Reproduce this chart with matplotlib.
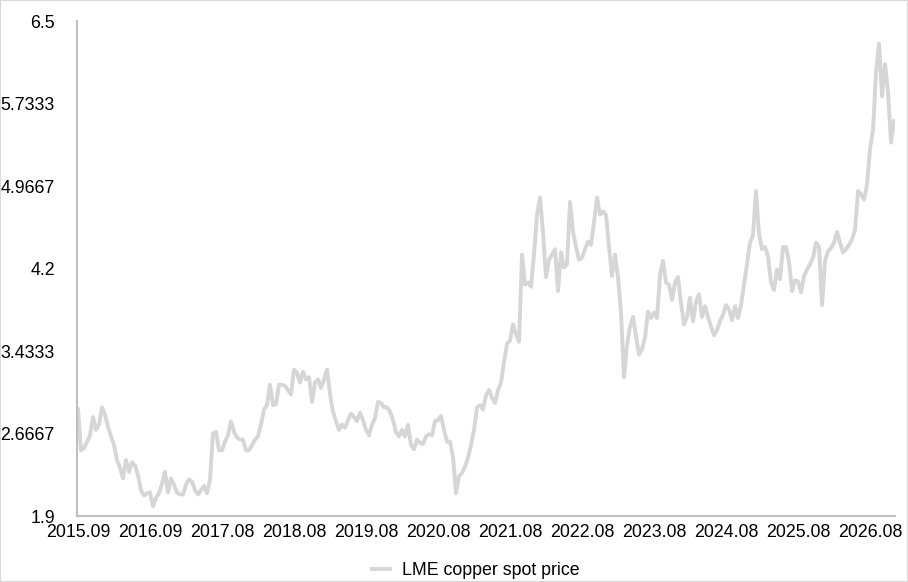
import numpy as np
import matplotlib
matplotlib.use('Agg')
import matplotlib.pyplot as plt
from matplotlib.patches import Rectangle

# weekly-ish LME copper spot price readings
price = [
    2.89, 2.51, 2.53, 2.59, 2.65, 2.82, 2.70, 2.75, 2.91, 2.84,
    2.73, 2.64, 2.56, 2.42, 2.35, 2.25, 2.42, 2.31, 2.40, 2.37,
    2.28, 2.14, 2.09, 2.11, 2.12, 1.99, 2.07, 2.11, 2.20, 2.31,
    2.12, 2.25, 2.19, 2.12, 2.10, 2.10, 2.19, 2.24, 2.22, 2.14,
    2.10, 2.14, 2.18, 2.11, 2.24, 2.67, 2.68, 2.51, 2.51, 2.59,
    2.65, 2.78, 2.68, 2.63, 2.61, 2.61, 2.51, 2.51, 2.56, 2.61,
    2.64, 2.75, 2.89, 2.93, 3.12, 2.93, 2.94, 3.12, 3.12, 3.11,
    3.07, 3.03, 3.26, 3.23, 3.14, 3.24, 3.17, 3.19, 2.96, 3.14,
    3.17, 3.09, 3.17, 3.26, 3.03, 2.87, 2.78, 2.70, 2.75, 2.72,
    2.79, 2.85, 2.82, 2.78, 2.86, 2.79, 2.70, 2.65, 2.75, 2.81,
    2.96, 2.95, 2.91, 2.91, 2.87, 2.79, 2.68, 2.64, 2.70, 2.64,
    2.75, 2.56, 2.52, 2.61, 2.58, 2.57, 2.64, 2.66, 2.65, 2.78,
    2.79, 2.83, 2.70, 2.59, 2.59, 2.45, 2.11, 2.27, 2.30, 2.36,
    2.44, 2.56, 2.70, 2.91, 2.93, 2.89, 3.02, 3.07, 3.00, 2.95,
    3.07, 3.14, 3.33, 3.50, 3.53, 3.68, 3.59, 3.52, 4.33, 4.05,
    4.07, 4.03, 4.33, 4.70, 4.86, 4.54, 4.12, 4.28, 4.33, 4.38,
    3.99, 4.35, 4.21, 4.24, 4.82, 4.54, 4.40, 4.28, 4.30, 4.38,
    4.45, 4.42, 4.63, 4.86, 4.70, 4.73, 4.70, 4.40, 4.13, 4.33,
    4.12, 3.79, 3.19, 3.49, 3.66, 3.75, 3.57, 3.40, 3.45, 3.56,
    3.80, 3.74, 3.79, 3.74, 4.14, 4.27, 4.07, 4.05, 3.91, 4.07,
    4.12, 3.88, 3.68, 3.75, 3.93, 3.71, 3.89, 3.96, 3.75, 3.85,
    3.75, 3.66, 3.58, 3.63, 3.71, 3.77, 3.86, 3.82, 3.72, 3.85,
    3.74, 3.86, 4.05, 4.24, 4.44, 4.51, 4.92, 4.52, 4.38, 4.40,
    4.31, 4.07, 4.00, 4.19, 4.10, 4.40, 4.40, 4.26, 3.99, 4.09,
    4.08, 3.98, 4.13, 4.19, 4.24, 4.30, 4.44, 4.40, 3.86, 4.27,
    4.36, 4.39, 4.44, 4.54, 4.44, 4.35, 4.38, 4.42, 4.47, 4.56,
    4.92, 4.89, 4.84, 4.98, 5.31, 5.49, 6.02, 6.29, 5.80, 6.10,
    5.84, 5.37, 5.57,
]

date_labels = ['2015.09', '2016.09', '2017.08', '2018.08', '2019.08', '2020.08',
               '2021.08', '2022.08', '2023.08', '2024.08', '2025.08', '2026.08']
label_step = 24  # one label every 24 points

y_ticks = [1.9, 2.6667, 3.4333, 4.2, 4.9667, 5.7333, 6.5]
y_labels = ['1.9', '2.6667', '3.4333', '4.2', '4.9667', '5.7333', '6.5']

plt.rcParams['font.family'] = ['Liberation Sans', 'DejaVu Sans']

fig = plt.figure(figsize=(9.08, 5.82), dpi=100)
ax = fig.add_axes([0.0848, 0.1134, 0.9009, 0.8505])

x = np.arange(len(price))
ln, = ax.plot(x, price, color='#d6d6d6', linewidth=2.8,
              solid_joinstyle='round', label='LME copper spot price')

ax.set_xlim(-0.33, len(price) - 0.67)
ax.set_ylim(y_ticks[0], y_ticks[-1])
ax.set_xticks(np.arange(len(date_labels)) * label_step)
ax.set_xticklabels(date_labels)
ax.set_yticks(y_ticks)
ax.set_yticklabels(y_labels)

ax.tick_params(axis='both', length=0, labelsize=12.8, colors='black')
ax.tick_params(axis='y', pad=16)
ax.tick_params(axis='x', pad=6)

for s in ['top', 'right']:
    ax.spines[s].set_visible(False)
for s in ['left', 'bottom']:
    ax.spines[s].set_color('#bfbfbf')
    ax.spines[s].set_linewidth(1.5)

leg = fig.legend(handles=[ln], loc='center', bbox_to_anchor=(0.524, 0.019),
                 frameon=False, fontsize=12.8, handlelength=1.0,
                 handletextpad=0.7)

# thin grey frame around the whole picture
fig.patches.append(Rectangle((0, 0), 1, 1, transform=fig.transFigure,
                             fill=False, edgecolor='#d9d9d9', linewidth=1.5))

fig.savefig('out.png', dpi=100)
